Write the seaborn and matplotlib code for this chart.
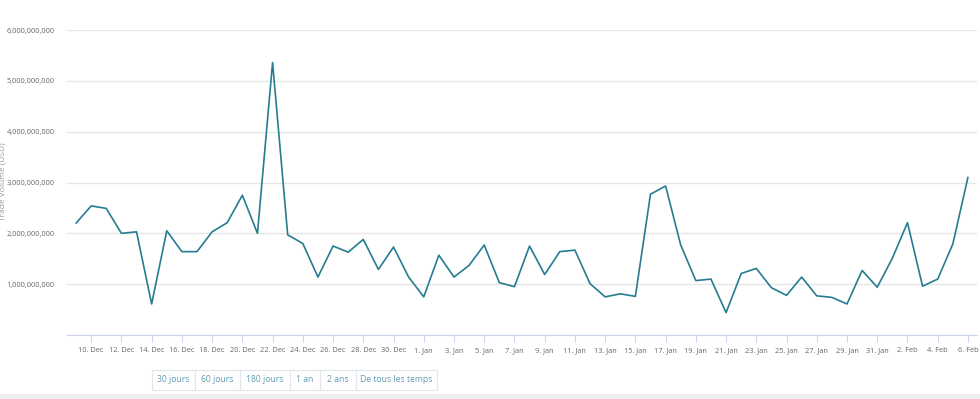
import matplotlib
matplotlib.use("Agg")
import matplotlib.pyplot as plt
import matplotlib.patches as mpatches
import pandas as pd
import seaborn as sns

# daily trade volume (USD), 9 Dec -> 6 Feb
dates = pd.date_range("2017-12-09", "2018-02-06", freq="D")
volume_bn = [
    2.20, 2.54, 2.49, 2.00, 2.03, 0.61, 2.05, 1.64, 1.64, 2.03,
    2.21, 2.75, 2.00, 5.36, 1.97, 1.80, 1.14, 1.75, 1.63, 1.88,
    1.29, 1.73, 1.14, 0.75, 1.57, 1.14, 1.37, 1.77, 1.03, 0.95,
    1.75, 1.19, 1.64, 1.67, 1.01, 0.75, 0.81, 0.76, 2.77, 2.93,
    1.77, 1.07, 1.10, 0.44, 1.21, 1.31, 0.93, 0.78, 1.14, 0.77,
    0.74, 0.61, 1.27, 0.94, 1.51, 2.21, 0.96, 1.10, 1.79, 3.10,
]
y_ticks = [0, 1e9, 2e9, 3e9, 4e9, 5e9, 6e9]
range_buttons = ["30 jours", "60 jours", "180 jours", "1 an", "2 ans", "De tous les temps"]

LINE = "#267c91"
GRID = "#e6e6e6"
TEXT = "#666666"

sns.set_theme(style="white")
plt.rcParams["font.family"] = ["Open Sans", "DejaVu Sans"]

df = pd.DataFrame({"idx": range(len(dates)), "date": dates,
                   "volume": [v * 1e9 for v in volume_bn]})

W, H = 980, 399
fig = plt.figure(figsize=(W / 100, H / 100), dpi=100)
ax = fig.add_axes([67 / W, 64 / H, (977 - 67) / W, (335 - 30) / H])

sns.lineplot(data=df, x="idx", y="volume", ax=ax, color=LINE, linewidth=1.2)

ax.set_xlim(-0.6, len(dates) - 0.4)
ax.set_ylim(0, 6e9)
ax.set_yticks(y_ticks)
ax.set_yticklabels([f"{int(t):,}" if t > 0 else "" for t in y_ticks])
ax.yaxis.grid(True, color=GRID, linewidth=1)
ax.set_axisbelow(True)

xt = list(range(1, len(dates), 2))
ax.set_xticks(xt)
ax.set_xticklabels([f"{dates[i].day}. {dates[i].strftime('%b')}" for i in xt])
ax.tick_params(axis="x", length=5, width=0.8, color="#ccd6eb", pad=4,
               labelsize=5.3, labelcolor=TEXT, bottom=True)
ax.tick_params(axis="y", length=0, pad=9, labelsize=5.3, labelcolor=TEXT)
ax.set_xlabel("")
ax.set_ylabel("")
for s in ["top", "right", "left"]:
    ax.spines[s].set_visible(False)
ax.spines["bottom"].set_color("#ccd6eb")
ax.spines["bottom"].set_linewidth(0.8)

fig.text(3 / W, 1 - 182 / H, "Trade Volume (USD)", rotation=90, ha="center",
         va="center", fontsize=6, color="#999999")

# range selector buttons
edges = [152, 195, 240, 290, 320, 356, 437]
for i, lab in enumerate(range_buttons):
    x0, x1 = edges[i], edges[i + 1]
    fig.patches.append(mpatches.Rectangle((x0 / W, 1 - 390 / H), (x1 - x0) / W, 20 / H,
                                          transform=fig.transFigure, facecolor="white",
                                          edgecolor="#e2e6ea", linewidth=0.8))
    fig.text((x0 + x1) / 2 / W, 1 - 380 / H, lab, ha="center", va="center",
             fontsize=6.2, color="#5f9db3")

fig.patches.append(mpatches.Rectangle((0, 0), 1, 5 / H, transform=fig.transFigure,
                                      facecolor="#efefef", edgecolor="none"))

fig.savefig("out.png", dpi=100)
